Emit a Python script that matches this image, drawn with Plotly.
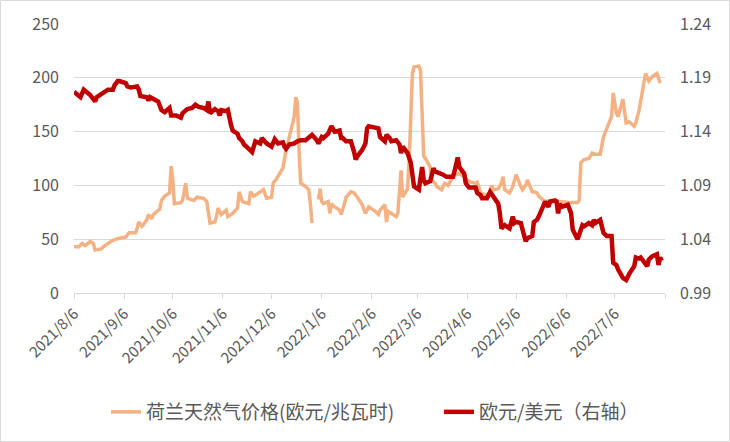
import plotly.graph_objects as go

# ---------------- data ----------------
gas_dates = [
    "2021-08-06", "2021-08-09", "2021-08-11", "2021-08-13", "2021-08-16", "2021-08-18", "2021-08-19",
    "2021-08-23", "2021-08-24", "2021-08-27", "2021-08-30", "2021-09-03", "2021-09-07", "2021-09-09",
    "2021-09-13", "2021-09-14", "2021-09-15", "2021-09-17", "2021-09-20", "2021-09-21", "2021-09-23",
    "2021-09-24", "2021-09-27", "2021-09-28", "2021-09-29", "2021-10-01", "2021-10-04", "2021-10-05",
    "2021-10-06", "2021-10-07", "2021-10-11", "2021-10-12", "2021-10-14", "2021-10-15", "2021-10-19",
    "2021-10-21", "2021-10-25", "2021-10-27", "2021-10-29", "2021-11-01", "2021-11-02", "2021-11-03",
    "2021-11-05", "2021-11-08", "2021-11-09", "2021-11-12", "2021-11-15", "2021-11-16", "2021-11-18",
    "2021-11-22", "2021-11-23", "2021-11-25", "2021-11-29", "2021-12-01", "2021-12-03", "2021-12-06",
    "2021-12-07", "2021-12-09", "2021-12-13", "2021-12-14", "2021-12-15", "2021-12-17", "2021-12-20",
    "2021-12-21", "2021-12-22", "2021-12-23", "2021-12-24", "2021-12-27", "2021-12-29", "2021-12-30",
    "2021-12-31", "2022-01-03", "2022-01-04", "2022-01-05", "2022-01-06", "2022-01-07", "2022-01-10",
    "2022-01-11", "2022-01-12", "2022-01-14", "2022-01-17", "2022-01-18", "2022-01-20", "2022-01-21",
    "2022-01-24", "2022-01-26", "2022-01-28", "2022-01-31", "2022-02-02", "2022-02-04", "2022-02-07",
    "2022-02-08", "2022-02-10", "2022-02-11", "2022-02-14", "2022-02-15", "2022-02-16", "2022-02-18",
    "2022-02-21", "2022-02-22", "2022-02-23", "2022-02-24", "2022-02-25", "2022-02-28", "2022-03-01",
    "2022-03-02", "2022-03-03", "2022-03-04", "2022-03-07", "2022-03-08", "2022-03-09", "2022-03-10",
    "2022-03-11", "2022-03-14", "2022-03-15", "2022-03-17", "2022-03-18", "2022-03-21", "2022-03-23",
    "2022-03-25", "2022-03-28", "2022-03-30", "2022-04-01", "2022-04-04", "2022-04-06", "2022-04-08",
    "2022-04-11", "2022-04-12", "2022-04-13", "2022-04-14", "2022-04-19", "2022-04-20", "2022-04-21",
    "2022-04-22", "2022-04-25", "2022-04-27", "2022-04-28", "2022-04-29", "2022-05-02", "2022-05-04",
    "2022-05-06", "2022-05-09", "2022-05-10", "2022-05-12", "2022-05-13", "2022-05-16", "2022-05-17",
    "2022-05-19", "2022-05-20", "2022-05-23", "2022-05-25", "2022-05-27", "2022-05-31", "2022-06-02",
    "2022-06-06", "2022-06-09", "2022-06-13", "2022-06-14", "2022-06-15", "2022-06-17", "2022-06-20",
    "2022-06-22", "2022-06-24", "2022-06-27", "2022-06-29", "2022-07-01", "2022-07-04", "2022-07-05",
    "2022-07-07", "2022-07-08", "2022-07-11", "2022-07-13", "2022-07-15", "2022-07-18", "2022-07-19",
    "2022-07-21", "2022-07-22", "2022-07-25", "2022-07-27", "2022-07-29", "2022-08-01", "2022-08-03",
]
gas_price = [
    43, 43, 46, 44, 48, 46, 40,
    41, 43, 46, 49, 51, 52, 56,
    56, 60, 66, 62, 68, 73, 69,
    73, 77, 78, 86, 90, 93, 118,
    105, 83, 84, 86, 102, 88, 86,
    89, 88, 85, 65, 66, 71, 79,
    73, 77, 71, 74, 79, 94, 85,
    83, 94, 90, 94, 96, 88, 89,
    102, 106, 116, 127, 133, 145, 164,
    182, 176, 133, 102, 99, 96, 83,
    65, None, 87, 97, 85, 83, 85,
    74, 83, 80, 77, 73, 83, 89,
    94, 93, 89, 82, 74, 80, 77,
    76, 73, 77, 82, 66, 76, 74,
    71, 74, 93, 114, 89, 97, 123,
    174, 204, 210, 211, 207, 164, 127,
    125, 117, 105, 102, 99, 96, 102,
    100, 108, 110, 111, 108, 105, 103,
    102, 103, 99, 93, 90, 94, 100,
    96, 97, 102, 108, 96, 93, 99,
    110, 99, 96, 100, 105, 94, 94,
    93, 90, 86, 85, 86, 86, 85,
    84, 84, 84, 86, 121, 124, 125,
    130, 129, 129, 145, 152, 164, 186,
    167, 164, 180, 158, 159, 155, 158,
    170, 178, 204, 197, 201, 204, 195,
]

fx_dates = [
    "2021-08-06", "2021-08-09", "2021-08-10", "2021-08-12", "2021-08-13", "2021-08-16", "2021-08-19",
    "2021-08-20", "2021-08-24", "2021-08-27", "2021-08-30", "2021-08-31", "2021-09-02", "2021-09-03",
    "2021-09-07", "2021-09-08", "2021-09-10", "2021-09-14", "2021-09-15", "2021-09-16", "2021-09-20",
    "2021-09-21", "2021-09-22", "2021-09-24", "2021-09-27", "2021-09-29", "2021-10-01", "2021-10-04",
    "2021-10-05", "2021-10-07", "2021-10-08", "2021-10-11", "2021-10-12", "2021-10-15", "2021-10-18",
    "2021-10-20", "2021-10-22", "2021-10-25", "2021-10-27", "2021-10-28", "2021-10-29", "2021-11-01",
    "2021-11-03", "2021-11-04", "2021-11-05", "2021-11-08", "2021-11-09", "2021-11-11", "2021-11-12",
    "2021-11-15", "2021-11-16", "2021-11-18", "2021-11-19", "2021-11-22", "2021-11-24", "2021-11-26",
    "2021-11-29", "2021-11-30", "2021-12-02", "2021-12-03", "2021-12-06", "2021-12-08", "2021-12-10",
    "2021-12-13", "2021-12-14", "2021-12-15", "2021-12-17", "2021-12-20", "2021-12-22", "2021-12-24",
    "2021-12-27", "2021-12-29", "2021-12-31", "2022-01-03", "2022-01-04", "2022-01-06", "2022-01-07",
    "2022-01-10", "2022-01-12", "2022-01-14", "2022-01-17", "2022-01-18", "2022-01-19", "2022-01-21",
    "2022-01-24", "2022-01-26", "2022-01-27", "2022-01-28", "2022-01-31", "2022-02-02", "2022-02-03",
    "2022-02-04", "2022-02-08", "2022-02-10", "2022-02-11", "2022-02-14", "2022-02-15", "2022-02-17",
    "2022-02-18", "2022-02-21", "2022-02-23", "2022-02-24", "2022-02-25", "2022-02-28", "2022-03-02",
    "2022-03-03", "2022-03-04", "2022-03-07", "2022-03-09", "2022-03-10", "2022-03-11", "2022-03-14",
    "2022-03-16", "2022-03-17", "2022-03-21", "2022-03-22", "2022-03-24", "2022-03-28", "2022-03-29",
    "2022-03-31", "2022-04-01", "2022-04-04", "2022-04-05", "2022-04-07", "2022-04-08", "2022-04-11",
    "2022-04-12", "2022-04-14", "2022-04-15", "2022-04-18", "2022-04-20", "2022-04-22", "2022-04-25",
    "2022-04-26", "2022-04-27", "2022-04-29", "2022-05-02", "2022-05-04", "2022-05-05", "2022-05-06",
    "2022-05-09", "2022-05-10", "2022-05-12", "2022-05-13", "2022-05-16", "2022-05-17", "2022-05-19",
    "2022-05-20", "2022-05-23", "2022-05-24", "2022-05-26", "2022-05-27", "2022-05-30", "2022-05-31",
    "2022-06-01", "2022-06-02", "2022-06-03", "2022-06-07", "2022-06-09", "2022-06-10", "2022-06-13",
    "2022-06-14", "2022-06-16", "2022-06-17", "2022-06-20", "2022-06-22", "2022-06-23", "2022-06-24",
    "2022-06-27", "2022-06-29", "2022-07-01", "2022-07-04", "2022-07-05", "2022-07-07", "2022-07-08",
    "2022-07-11", "2022-07-13", "2022-07-15", "2022-07-18", "2022-07-19", "2022-07-21", "2022-07-22",
    "2022-07-26", "2022-07-27", "2022-07-29", "2022-08-01", "2022-08-02", "2022-08-03", "2022-08-04",
]
eur_usd = [
    1.177, 1.174, 1.172, 1.179, 1.178, 1.174, 1.168,
    1.172, 1.176, 1.179, 1.179, 1.183, 1.187, 1.187,
    1.185, 1.182, 1.181, 1.182, 1.179, 1.173, 1.172,
    1.169, 1.172, 1.170, 1.168, 1.160, 1.158, 1.162,
    1.155, 1.155, 1.155, 1.153, 1.157, 1.161, 1.162,
    1.165, 1.163, 1.162, 1.160, 1.168, 1.157, 1.161,
    1.159, 1.155, 1.160, 1.159, 1.160, 1.146, 1.141,
    1.138, 1.134, 1.131, 1.128, 1.124, 1.121, 1.131,
    1.129, 1.134, 1.131, 1.129, 1.126, 1.133, 1.129,
    1.130, 1.126, 1.124, 1.128, 1.129, 1.131, 1.132,
    1.132, 1.134, 1.137, 1.132, 1.129, 1.135, 1.134,
    1.138, 1.145, 1.140, 1.141, 1.134, 1.134, 1.131,
    1.131, 1.121, 1.114, 1.117, 1.123, 1.129, 1.143,
    1.145, 1.143, 1.143, 1.135, 1.131, 1.137, 1.134,
    1.131, 1.132, 1.128, 1.120, 1.126, 1.120, 1.111,
    1.098, 1.089, 1.086, 1.107, 1.095, 1.092, 1.094,
    1.106, 1.103, 1.101, 1.100, 1.098, 1.098, 1.103,
    1.116, 1.107, 1.101, 1.092, 1.088, 1.088, 1.088,
    1.083, 1.081, 1.078, 1.078, 1.084, 1.079, 1.073,
    1.064, 1.050, 1.053, 1.050, 1.061, 1.055, 1.056,
    1.055, 1.049, 1.038, 1.041, 1.043, 1.056, 1.058,
    1.061, 1.070, 1.075, 1.070, 1.075, 1.076, 1.075,
    1.064, 1.073, 1.070, 1.072, 1.064, 1.049, 1.040,
    1.044, 1.053, 1.052, 1.055, 1.053, 1.058, 1.055,
    1.058, 1.046, 1.043, 1.043, 1.018, 1.016, 1.012,
    1.004, 1.002, 1.008, 1.015, 1.023, 1.022, 1.023,
    1.015, 1.021, 1.024, 1.026, 1.016, 1.023, 1.020,
]

tick_dates = [
    "2021-08-06", "2021-09-06", "2021-10-06", "2021-11-06", "2021-12-06", "2022-01-06",
    "2022-02-06", "2022-03-06", "2022-04-06", "2022-05-06", "2022-06-06", "2022-07-06", "2022-08-06",
]
tick_labels = [
    "2021/8/6", "2021/9/6", "2021/10/6", "2021/11/6", "2021/12/6", "2022/1/6",
    "2022/2/6", "2022/3/6", "2022/4/6", "2022/5/6", "2022/6/6", "2022/7/6", "",
]

gas_name = "荷兰天然气价格(欧元/兆瓦时)"
fx_name = "欧元/美元（右轴）"

# ---------------- figure ----------------
FONT = "Noto Sans CJK SC, Noto Sans, sans-serif"
GRAY = "#595959"
GRID = "#d9d9d9"

fig = go.Figure()
fig.add_trace(go.Scatter(
    x=gas_dates, y=gas_price, name=gas_name, mode="lines",
    line=dict(color="#F4B183", width=3.5), connectgaps=False, yaxis="y",
    legend="legend",
))
fig.add_trace(go.Scatter(
    x=fx_dates, y=eur_usd, name=fx_name, mode="lines",
    line=dict(color="#C00000", width=4.5), yaxis="y2",
    legend="legend2",
))

W, H = 730, 442
ml, mr, mt, mb = 74, 65, 24, 149
pw, ph = W - ml - mr, H - mt - mb

leg_common = dict(
    orientation="h", yanchor="middle", y=(mt + ph - 412) / ph,
    xanchor="left", itemwidth=30, bgcolor="rgba(0,0,0,0)",
    font=dict(family=FONT, size=19, color=GRAY),
)

fig.update_layout(
    width=W, height=H,
    margin=dict(l=ml, r=mr, t=mt, b=mb, pad=0, autoexpand=False),
    paper_bgcolor="white", plot_bgcolor="white",
    font=dict(family=FONT, size=16, color=GRAY),
    showlegend=True,
    legend=dict(x=(106 - ml) / pw, **leg_common),
    legend2=dict(x=(439 - ml) / pw, **leg_common),
    xaxis=dict(
        type="date", range=["2021-08-06", "2022-08-06"],
        tickmode="array", tickvals=tick_dates, ticktext=tick_labels,
        tickangle=-45, ticks="outside", ticklen=5, tickcolor=GRID, tickwidth=1,
        showline=True, linecolor=GRID, linewidth=1,
        showgrid=False, zeroline=False,
        tickfont=dict(family=FONT, size=15, color=GRAY),
    ),
    yaxis=dict(
        range=[0, 250], dtick=50, tick0=0,
        showgrid=True, gridcolor=GRID, gridwidth=1,
        zeroline=False, showline=False, ticks="",
        ticklabelstandoff=14,
        tickfont=dict(family=FONT, size=16, color=GRAY),
    ),
    yaxis2=dict(
        range=[0.99, 1.24], dtick=0.05, tick0=0.99, tickformat=".2f",
        overlaying="y", side="right",
        showgrid=False, zeroline=False, showline=False, ticks="",
        ticklabelstandoff=14,
        tickfont=dict(family=FONT, size=16, color=GRAY),
    ),
    shapes=[dict(
        type="rect", xref="paper", yref="paper",
        x0=(0.5 - ml) / pw, x1=(W - 0.5 - ml) / pw,
        y0=(mt + ph - (H - 0.5)) / ph, y1=(mt + ph - 0.5) / ph,
        line=dict(color=GRID, width=1), fillcolor="rgba(0,0,0,0)", layer="below",
    )],
)

fig.write_html("out.html")
